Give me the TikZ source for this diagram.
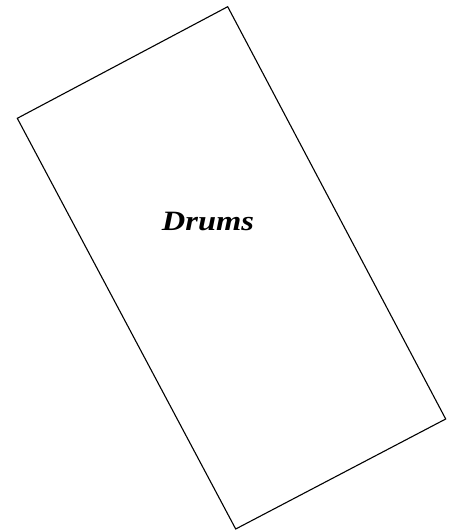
\documentclass[tikz,border=0pt]{standalone}
\usepackage{fontspec}
\setmainfont{Liberation Serif}

\begin{document}
\begin{tikzpicture}[x=1pt, y=-1pt,
        every node/.style={font=\bfseries\itshape\fontsize{28}{32}\selectfont}]
      \useasboundingbox (0,0) rectangle (457,531);
      \coordinate (top) at (227.7,6.7);
      \coordinate (left) at (17.3,118.3);
      \coordinate (bottom) at (235.7,529.0);
      \coordinate (right) at (445.7,419.0);
      \draw[line width=1.1pt, line join=miter] (top) -- (left) -- (bottom) -- (right) -- cycle;
      \node[anchor=base, xscale=1.16, transform shape, inner sep=0pt]
            (drums) at (208,230) {Drums};
    \end{tikzpicture}
\end{document}
